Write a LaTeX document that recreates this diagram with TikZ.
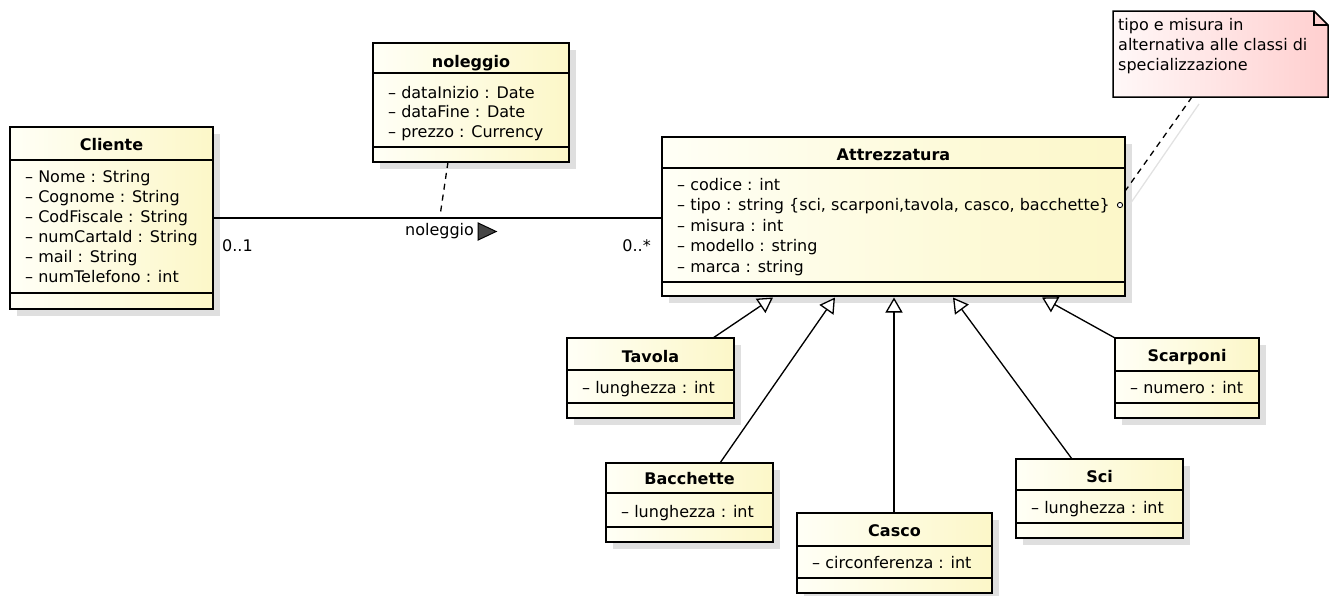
\documentclass[tikz,border=0pt]{standalone}
\usepackage{fontspec}
\setmainfont{DejaVu Sans}
\usetikzlibrary{arrows.meta,calc}

\pgfdeclarelayer{shade}
\pgfdeclarelayer{wires}
\pgfsetlayers{shade,wires,main}

\definecolor{boxL}{HTML}{FFFFF6}
\definecolor{boxR}{HTML}{FCF7C8}
\definecolor{noteL}{HTML}{FFF8F8}
\definecolor{noteR}{HTML}{FFCFCF}
\definecolor{boxshadow}{HTML}{DFDFDF}
\definecolor{wireshadow}{HTML}{E2E2E2}
\definecolor{navtri}{HTML}{454545}

\tikzset{
  classbox/.style={draw=black, line width=2.8pt, left color=boxL, right color=boxR,
    inner sep=0pt, outer sep=0pt, anchor=north west},
  sepline/.style={line width=1.3pt},
  title/.style={font=\fontsize{16}{19}\selectfont\bfseries, anchor=base, inner sep=0pt},
  attr/.style={font=\fontsize{16}{19}\selectfont, anchor=base west, inner sep=0pt},
  wire/.style={line width=1.3pt},
  wireshade/.style={draw=wireshadow},
  inherit/.style={wire, -{Triangle[length=15pt,width=17pt,fill=white,line width=1.3pt]}},
  notedash/.style={wire, dash pattern=on 6pt off 5pt},
}

% class box: name, left, top, right, bottom, header rule y, attribute rule y
\newcommand\umlclass[7]{%
  \begin{pgfonlayer}{shade}
    \fill[boxshadow] (#2+7,#3+7) rectangle (#4+7,#5+7);
  \end{pgfonlayer}
  \node[classbox, minimum width={#4-#2}, minimum height={#5-#3}] (#1) at (#2,#3) {};
  \draw[sepline] (#2,#6) -- (#4,#6) (#2,#7) -- (#4,#7);
}
% attribute rows: name, x, first baseline, row step, list
\newcommand\umlrows[5]{%
  \foreach \t [count=\i] in {#5} {\node[attr] (#1-a\i) at (#2,{#3+#4*(\i-1)}) {\t};}%
}
% generalization with its soft shadow
\newcommand\umlgen[2]{%
  \begin{pgfonlayer}{shade}\draw[inherit, wireshade, shift={(6,6)}] #1 -- #2;\end{pgfonlayer}
  \begin{pgfonlayer}{wires}\draw[inherit] #1 -- #2;\end{pgfonlayer}
}

\begin{document}
\begin{tikzpicture}[x=1pt,y=-1pt]
\useasboundingbox (0,0) rectangle (1334,595);

% ---- classes
\umlclass{cli}{10}{127}{213}{309}{160}{293}
\node[title] (cli-t) at (111.5,150) {Cliente};
\umlrows{cli}{25}{182}{20}{– Nome : String, – Cognome : String, – CodFiscale : String,
  – numCartaId : String, – mail : String, – numTelefono : int}

\umlclass{nol}{373}{43}{569}{162}{73}{147}
\node[title] (nol-t) at (471,67) {noleggio};
\umlrows{nol}{388}{98}{19.5}{– dataInizio : Date, – dataFine : Date, – prezzo : Currency}

\umlclass{att}{662}{137}{1125}{296}{168}{282}
\node[title] (att-t) at (893.5,160) {Attrezzatura};
\umlrows{att}{677}{190}{20.5}{– codice : int,
  {– tipo : string \{sci, scarponi,tavola, casco, bacchette\}},
  – misura : int, – modello : string, – marca : string}

\umlclass{tav}{567}{338}{734}{418}{370}{403}
\node[title] (tav-t) at (650.5,362) {Tavola};
\umlrows{tav}{582}{393}{0}{– lunghezza : int}

\umlclass{bac}{606}{463}{773}{542}{493}{527}
\node[title] (bac-t) at (689.5,484) {Bacchette};
\umlrows{bac}{621}{517}{0}{– lunghezza : int}

\umlclass{cas}{797}{513}{992}{593}{546}{578}
\node[title] (cas-t) at (894.5,536) {Casco};
\umlrows{cas}{812}{568}{0}{– circonferenza : int}

\umlclass{scp}{1115}{338}{1259}{418}{371}{403}
\node[title] (scp-t) at (1187,361) {Scarponi};
\umlrows{scp}{1130}{393}{0}{– numero : int}

\umlclass{sci}{1016}{459}{1183}{538}{490}{523}
\node[title] (sci-t) at (1099.5,482) {Sci};
\umlrows{sci}{1031}{513}{0}{– lunghezza : int}

% ---- note
\node[minimum width=215, minimum height=86, anchor=north west, inner sep=0pt, outer sep=0pt] (note) at (1113,11) {};
\begin{pgfonlayer}{shade}
  \fill[boxshadow, shift={(7,7)}] (note.north west) -- ($(note.north east)+(-14,0)$)
    -- ($(note.north east)+(0,14)$) -- (note.south east) -- (note.south west) -- cycle;
\end{pgfonlayer}
\draw[line width=1.5pt, left color=noteL, right color=noteR]
  (note.north west) -- ($(note.north east)+(-14,0)$) -- ($(note.north east)+(0,14)$)
  -- (note.south east) -- (note.south west) -- cycle;
\draw[line width=1.3pt] ($(note.north east)+(-14,0)$) -- ($(note.north east)+(-14,14)$)
  -- ($(note.north east)+(0,14)$);
\node[attr] (note-l1) at (1118,30) {tipo e misura in};
\node[attr] (note-l2) at (1118,50) {alternativa alle classi di};
\node[attr] (note-l3) at (1118,70) {specializzazione};

% ---- association Cliente -- Attrezzatura
\coordinate (assoc-end) at (cli.east -| att.west);
\begin{pgfonlayer}{shade}
  \draw[wire, wireshade, shift={(0,6)}] (cli.east) -- (assoc-end);
\end{pgfonlayer}
\begin{pgfonlayer}{wires}
  \draw[wire] (cli.east) -- (assoc-end);
\end{pgfonlayer}
\node[attr] (assoc-lbl) at (405,235) {noleggio};
\node[attr] (mult-l) at (222,251) {0..1};
\node[attr, anchor=base east] (mult-r) at (651,251) {0..*};
\filldraw[navtri, draw=black, line width=1pt]
  ($(assoc-lbl.base east)+(4,-12)$) -- ($(assoc-lbl.base east)+(22,-3.5)$)
  -- ($(assoc-lbl.base east)+(4,5)$) -- cycle;

% association class link
\coordinate (assoc-pt) at (440,216);
\begin{pgfonlayer}{wires}
  \draw[wire, dash pattern=on 6pt off 5pt] ($(nol.south west)+(75,0)$) -- (assoc-pt);
\end{pgfonlayer}

% note link
\coordinate (tipo-pt) at (1120,205);
\begin{pgfonlayer}{shade}
  \draw[wire, wireshade] ($(note.south west)+(86,7)$) -- ($(tipo-pt)+(6,5)$);
\end{pgfonlayer}
\begin{pgfonlayer}{wires}
  \draw[notedash] ($(note.south west)+(79,0)$) -- ($(tipo-pt)+(3,-11)$);
\end{pgfonlayer}
\draw[line width=0.9pt, fill=white] (tipo-pt) circle (2.6);

% ---- generalizations
\umlgen{($(tav.north west)+(146,0)$)}{($(att.south west)+(111,1.5)$)}
\umlgen{($(bac.north west)+(114,0)$)}{($(att.south west)+(173,1.5)$)}
\umlgen{($(cas.north west)+(97,0)$)}{($(att.south west)+(232,1.5)$)}
\umlgen{($(sci.north west)+(56,0)$)}{($(att.south west)+(291,1.5)$)}
\umlgen{(scp.north west)}{($(att.south west)+(380,1.5)$)}
\end{tikzpicture}
\end{document}
